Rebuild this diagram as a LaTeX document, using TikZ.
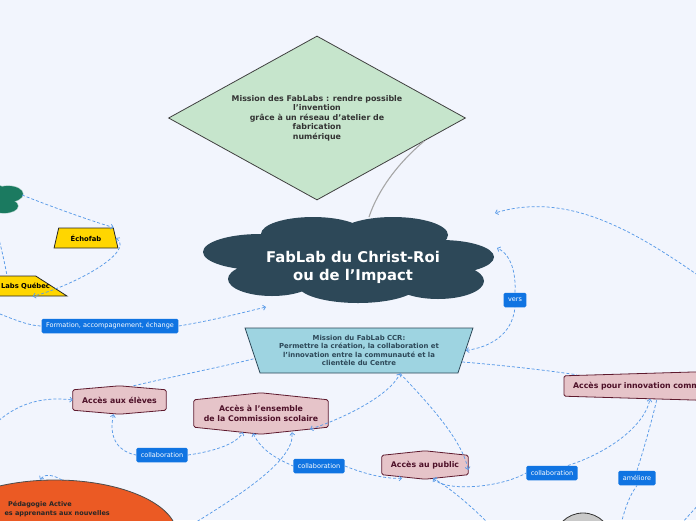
\documentclass[tikz,border=0pt]{standalone}
\usepackage{fontspec}
\setmainfont{DejaVu Sans}
\usetikzlibrary{shapes.geometric,arrows.meta,backgrounds,calc}
\definecolor{bg}{RGB}{242,245,253}
\definecolor{dia}{RGB}{198,229,204}
\definecolor{cloudc}{RGB}{45,72,88}
\definecolor{ccrc}{RGB}{158,212,225}
\definecolor{accf}{RGB}{230,196,201}
\definecolor{accb}{RGB}{94,26,46}
\definecolor{acct}{RGB}{77,16,40}
\definecolor{lblue}{RGB}{16,116,226}
\definecolor{relc}{RGB}{90,155,232}
\definecolor{goldc}{RGB}{255,214,0}
\definecolor{orng}{RGB}{235,90,36}
\definecolor{tealc}{RGB}{27,122,96}
\definecolor{grayc}{RGB}{201,201,201}
\tikzset{
 rel/.style={draw=relc, line width=0.75pt, dash pattern=on 3pt off 2pt},
 lbl/.style={fill=lblue, text=white, rounded corners=1.5pt, font=\fontsize{6.5}{7.5}\selectfont, inner xsep=4.5pt, inner ysep=0pt, minimum height=14.5pt},
 acc/.style={draw=none, inner sep=0pt, align=center, text=acct, font=\bfseries\fontsize{7.8}{9.5}\selectfont},
 accshape/.style={draw=accb, fill=accf, line width=0.8pt, rounded corners=1.5pt},
 trap/.style={trapezium, trapezium stretches=true, inner sep=0pt},
}
\newcommand\accoutline[2]{%
  \draw[accshape] ([yshift=-#2pt]#1.north west) -- (#1.north) -- ([yshift=-#2pt]#1.north east) -- ([yshift=#2pt]#1.south east) -- (#1.south) -- ([yshift=#2pt]#1.south west) -- cycle;}
\begin{document}
\begin{tikzpicture}[x=1pt,y=-1pt,>={Straight Barb[length=2.5pt,width=5pt]}]
\begin{scope}[on background layer]
 \fill[bg] (0,0) rectangle (696,520);
\end{scope}
\useasboundingbox (0,0) rectangle (696,520);

% green cloud (cut at left edge)
\draw[tealc!40!white, line width=1.2pt] (8,194) ellipse [x radius=15pt, y radius=8pt] (4,206) ellipse [x radius=14pt, y radius=7pt] (-5,199) ellipse [x radius=15pt, y radius=14pt];
\fill[tealc] (8,194) ellipse [x radius=15pt, y radius=8pt] (4,206) ellipse [x radius=14pt, y radius=7pt] (-5,199) ellipse [x radius=15pt, y radius=14pt];
\coordinate (gc) at (22,195);

% main cloud
\fill[cloudc] (260,252) ellipse [x radius=57pt, y radius=18pt]
 (313,234) ellipse [x radius=52pt, y radius=17pt]
 (393,235) ellipse [x radius=55pt, y radius=18pt]
 (441,257) ellipse [x radius=53pt, y radius=17pt]
 (272,279) ellipse [x radius=44pt, y radius=17pt]
 (358,285) ellipse [x radius=60pt, y radius=18pt]
 (438,281) ellipse [x radius=46pt, y radius=18pt];
\fill[cloudc] (255,242) rectangle (450,290);
\node[ellipse, inner sep=0pt, minimum width=290pt, minimum height=86pt, align=center, text=white, font=\bfseries\fontsize{14.8}{18}\selectfont] (cloud) at (353,267) {FabLab du Christ-Roi\\ou de l'Impact};

% diamond
\node[diamond, shape aspect=1.81, draw=black!75, line width=0.8pt, fill=dia, minimum width=297pt, minimum height=164pt, inner sep=0pt, align=center, text=black!80, font=\bfseries\fontsize{7.9}{9.5}\selectfont] (fabmission) at (317,118) {Mission des FabLabs : rendre possible\\l'invention\\grâce à un réseau d'atelier de\\fabrication\\numérique};
\draw[black!35, line width=1.1pt] ($(fabmission.east)!0.28!(fabmission.south)$) .. controls (398,163) and (378,190) .. ($(cloud.center)+(16,-50)$);

% yellow trapezia
\node[trap, draw=black!85, line width=0.8pt, fill=goldc, trapezium left angle=68, trapezium right angle=68, minimum width=64pt, minimum height=20pt, font=\bfseries\fontsize{6.8}{8}\selectfont] (echofab) at (86,238) {Échofab};
\node[trap, draw=black!85, line width=0.8pt, fill=goldc, trapezium left angle=68, trapezium right angle=68, minimum width=140pt, minimum height=20pt] (labsq) at (-3,286) {\phantom{\rule{4pt}{4pt}}};
\node[font=\bfseries\fontsize{6.8}{8}\selectfont, inner sep=0pt] (labsqtext) at (25.5,286) {Labs Québec};

% CCR trapezium
\node[trap, draw=cloudc, line width=0.8pt, fill=ccrc, trapezium left angle=111.3, trapezium right angle=111.3, minimum width=228pt, minimum height=45pt, align=center, text=cloudc, font=\bfseries\fontsize{6.9}{8.6}\selectfont] (ccr) at (359,350.5) {Mission du FabLab CCR:\\Permettre la création, la collaboration et\\l'innovation entre la communauté et la\\clientèle du Centre};

% Acces nodes
\node[acc, minimum width=93pt, minimum height=28pt] (eleves) at (119.5,400) {Accès aux élèves};
\node[acc, minimum width=134pt, minimum height=41pt] (ensemble) at (261,413.5) {Accès à l'ensemble\\de la Commission scolaire};
\node[acc, minimum width=86pt, minimum height=28pt] (public) at (425,465) {Accès au public};
\node[acc, anchor=west, minimum width=270pt, minimum height=28pt, text width=252pt, inner xsep=9pt, align=left] (innov) at (564,386) {Accès pour innovation comm};
\begin{scope}[on background layer]
 \accoutline{eleves}{4}
 \accoutline{ensemble}{7}
 \accoutline{public}{4.5}
 \accoutline{innov}{4}
\end{scope}

% orange ellipse and gray circle
\node[ellipse, draw=black!70, line width=0.8pt, fill=orng, minimum width=244pt, minimum height=110pt, inner sep=0pt] (peda) at (55,535) {};
\node[font=\bfseries\fontsize{6.5}{8}\selectfont, text=black!85, inner sep=0pt] (pedatitle) at (40,505) {Pédagogie Active};
\node[font=\bfseries\fontsize{6.5}{8}\selectfont, text=black!85, inner sep=0pt, anchor=east] (pedaline) at (110,514) {es apprenants aux nouvelles};
\node[circle, draw=black!80, line width=0.8pt, fill=grayc, minimum size=58pt, inner sep=0pt] (graynode) at (583,542) {};

% labels
\node[lbl] (formation) at (110,326) {Formation, accompagnement, échange};
\node[lbl] (vers) at (515,300) {vers};
\node[lbl] (collab1) at (162,455) {collaboration};
\node[lbl] (collab2) at (319,466) {collaboration};
\node[lbl] (collab3) at (552,473) {collaboration};
\node[lbl] (ameliore) at (637,478) {améliore};

% free ends
\coordinate (offl1) at (-3,232);
\coordinate (offl2) at (-5,312);
\coordinate (offl3) at (-5,424);
\coordinate (offr1) at (702,278);
\coordinate (offb1) at (193,524);
\coordinate (offb2) at (621,524);
\coordinate (offb3) at (489,524);
\coordinate (offb4a) at (681,524);
\coordinate (offb4b) at (700,503);
\coordinate (pedin) at (62,480);

% connectors
\draw[rel,->] (gc) .. controls (60,210) and (95,222) .. (echofab.top right corner);
\draw[rel,<->] (echofab.right side) .. controls (135,252) and (75,285) .. ($(labsq.bottom right corner)!0.5!(labsq.bottom side)$);
\draw[rel] (offl1) .. controls (2,250) and (5,265) .. ($(labsq.top side)+(10,0)$);
\draw[rel] (offl2) .. controls (15,320) and (30,326) .. (formation.west);
\draw[rel,->] (formation.east) .. controls (215,320) and (245,312) .. ($(cloud.center)+(-87,40)$);
\draw[rel,<-] (ccr.right side) .. controls (490,347) and (512,335) .. (vers.south);
\draw[rel,->] (vers.north) .. controls (516,275) and (512,255) .. ($(cloud.center)+(144,-19)$);
\draw[rel,->] (offr1) .. controls (640,235) and (570,190) .. ($(cloud.center)+(142,-54)$);
\draw[rel] ($(eleves.north)+(14,0)$) .. controls (180,375) and (230,365) .. ($(ccr.left side)!0.35!(ccr.bottom left corner)$);
\draw[rel,->] (offl3) .. controls (15,405) and (40,396) .. (eleves.west);
\draw[rel,<-] ($(eleves.south)+(-6,0)$) .. controls (108,440) and (120,452) .. (collab1.west);
\draw[rel,->] (collab1.east) .. controls (210,452) and (236,445) .. ($(ensemble.south)+(-18,-2)$);
\draw[rel,<-] ($(ensemble.south)+(-8,-1)$) .. controls (262,452) and (280,460) .. (collab2.west);
\draw[rel,->] (collab2.east) .. controls (365,474) and (385,479) .. ($(public.south)+(-23,-1)$);
\draw[rel,->] (offb1) .. controls (240,495) and (295,460) .. ($(ensemble.south)+(31,-2)$);
\draw[rel,<->] ($(ensemble.south)+(49,-5)$) .. controls (345,418) and (390,395) .. ($(ccr.bottom side)+(41,0)$);
\draw[rel,->] ($(ccr.bottom side)+(41,0)$) .. controls (430,405) and (462,440) .. ($(public.east)+(0,5)$);
\draw[rel] ($(ccr.right side)!0.5!(ccr.bottom right corner)$) .. controls (500,365) and (545,370) .. ($(innov.north west)+(13,3)$);
\draw[rel,<-] ($(public.south)+(8,-1)$) .. controls (445,492) and (500,488) .. (collab3.west);
\draw[rel,->] ($(collab3.north east)+(-10,0)$) .. controls (610,452) and (645,425) .. ($(innov.south west)+(86,-1.5)$);
\draw[rel] (offb2) .. controls (626,505) and (630,495) .. (ameliore.south);
\draw[rel] (ameliore.north) .. controls (645,445) and (652,420) .. ($(innov.south west)+(93,-1.5)$);
\draw[rel,->] (offb3) .. controls (470,505) and (450,488) .. ($(public.south)+(8,-1)$);
\draw[rel] (offb4a) -- (offb4b);
\draw[rel,->] (pedin) .. controls (52,474) and (44,474) .. ($(peda.north)+(-15,0)$);
\end{tikzpicture}
\end{document}
